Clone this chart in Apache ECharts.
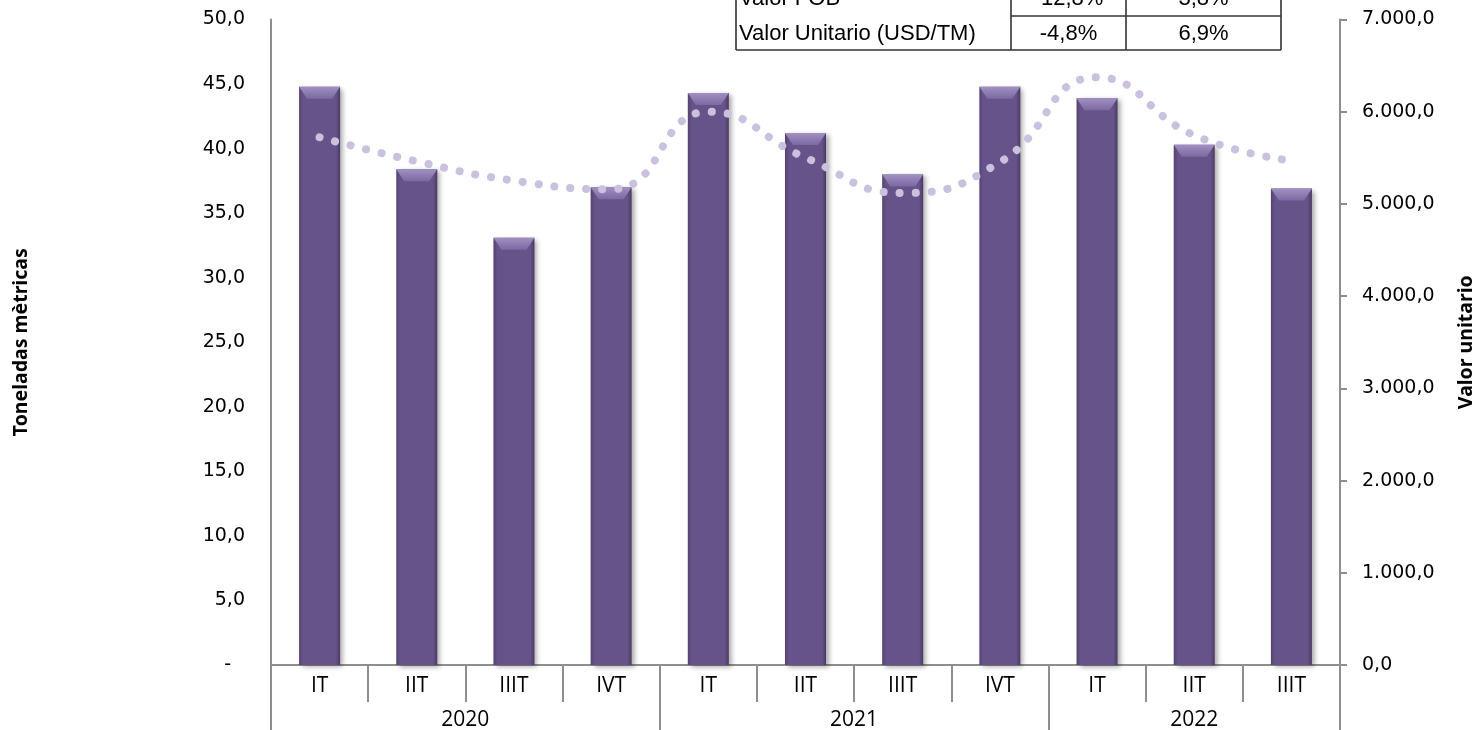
<!DOCTYPE html>
<html>
<head>
<meta charset="utf-8">
<script src="https://cdn.jsdelivr.net/npm/echarts@6/dist/echarts.min.js"></script>
<style>
html,body{margin:0;padding:0;background:#fff;}
#chart{width:1477px;height:730px;}
</style>
</head>
<body>
<div id="chart"></div>
<script>
// ---- data ----
var quarters = ['IT','IIT','IIIT','IVT','IT','IIT','IIIT','IVT','IT','IIT','IIIT'];
var years = ['2020','2021','2022'];
var yearSpans = [4,4,3];
var toneladas = [44.8, 38.4, 33.1, 37.0, 44.3, 41.2, 38.0, 44.8, 43.9, 40.3, 36.9];
var valorUnitario = [5723, 5462, 5252, 5159, 6000, 5502, 5119, 5452, 6373, 5744, 5469];
var tableRows = ['Valor FOB', 'Valor Unitario (USD/TM)'];
var tableCol1 = ['-12,8%', '-4,8%'];
var tableCol2 = ['3,8%', '6,9%'];
var leftTicks = {min:0, max:50, interval:5};
var rightTicks = {min:0, max:7000, interval:1000};

// derived positions for year labels / dividers
var yearBounds = [0], yearCenters = [];
(function(){ var acc=0; for (var i=0;i<yearSpans.length;i++){ yearCenters.push(acc+yearSpans[i]/2); acc+=yearSpans[i]; yearBounds.push(acc);} })();

function fmtLeft(v){ if (v===0) return '{d|-}'; return v.toFixed(1).replace('.',','); }
function fmtRight(v){
  var s = v.toFixed(1).split('.');
  var ip = s[0].replace(/\B(?=(\d{3})+(?!\d))/g,'.');
  return ip + ',' + s[1];
}

var gray = '#8e8e8e';
var chart = echarts.init(document.getElementById('chart'));

// table graphic
var tbl = [];
var colX = [736, 1011, 1126, 1281];
var lineStyle = {stroke:'#333', lineWidth:1.6};
colX.forEach(function(x){ tbl.push({type:'line', shape:{x1:x,y1:-2,x2:x,y2:50}, style:lineStyle}); });
tbl.push({type:'line', shape:{x1:1011,y1:16,x2:1281,y2:16}, style:lineStyle});
tbl.push({type:'line', shape:{x1:736,y1:50,x2:1281,y2:50}, style:lineStyle});
var rowY = [-1, 34];
for (var r=0;r<tableRows.length;r++){
  var ts = {font:'22px "Liberation Sans", Arial, sans-serif', fill:'#000', textVerticalAlign:'middle'};
  tbl.push({type:'text', x:739, y:rowY[r], style:Object.assign({text:tableRows[r], textAlign:'left'}, ts)});
  tbl.push({type:'text', x:(colX[1]+colX[2])/2, y:rowY[r], style:Object.assign({text:tableCol1[r], textAlign:'center'}, ts)});
  tbl.push({type:'text', x:(colX[2]+colX[3])/2, y:rowY[r], style:Object.assign({text:tableCol2[r], textAlign:'center'}, ts)});
}

var catFont = {color:'#000', fontSize:21, fontFamily:'"Open Sans", sans-serif'};
var titleFont = {fontSize:19.5, fontWeight:'bold', color:'#000', fontFamily:'"Noto Sans", sans-serif'};
var tickFont = {color:'#000', fontSize:19, fontFamily:'"DejaVu Sans", sans-serif'};

var option = {
  animation:false,
  backgroundColor:'#fff',
  grid:{left:271, right:137, top:19.5, bottom:65, containLabel:false, outerBoundsMode:'none'},
  graphic: tbl,
  xAxis:[
    {
      type:'category', data:quarters, position:'bottom', boundaryGap:true,
      axisLine:{show:true, lineStyle:{color:gray, width:2}},
      axisTick:{show:true, interval:0, length:37, lineStyle:{color:gray, width:2}},
      axisLabel:Object.assign({interval:0, margin:11}, catFont),
      splitLine:{show:false}
    },
    {
      type:'value', min:0, max:yearBounds[yearBounds.length-1], position:'bottom', offset:37,
      axisLine:{show:true, lineStyle:{color:'rgba(0,0,0,0)', width:0}},
      axisTick:{show:true, customValues:yearBounds, length:28, lineStyle:{color:gray, width:2}},
      axisLabel:Object.assign({customValues:yearCenters, margin:8,
        formatter:function(v){ var i=yearCenters.indexOf(v); return i>=0?years[i]:''; }}, catFont),
      splitLine:{show:false}
    },
    {
      type:'category', data:quarters, position:'bottom', boundaryGap:true, offset:37,
      axisLine:{show:true, lineStyle:{color:'rgba(0,0,0,0)', width:0}},
      axisTick:{show:true, length:28, lineStyle:{color:gray, width:2},
        interval:function(i){ return yearBounds.indexOf(i) >= 0; }},
      axisLabel:{show:false},
      splitLine:{show:false}
    }
  ],
  yAxis:[
    {
      type:'value', min:leftTicks.min, max:leftTicks.max, interval:leftTicks.interval,
      name:'Toneladas mètricas', nameLocation:'middle', nameGap:240, nameRotate:90,
      nameTextStyle:titleFont,
      axisLine:{show:true, lineStyle:{color:gray, width:2}},
      axisTick:{show:false},
      axisLabel:Object.assign({margin:26, formatter:fmtLeft,
        rich:{d:Object.assign({padding:[0,14,0,0]}, tickFont)}}, tickFont),
      splitLine:{show:false}
    },
    {
      type:'value', min:rightTicks.min, max:rightTicks.max, interval:rightTicks.interval, position:'right',
      name:'Valor unitario', nameLocation:'middle', nameGap:116, nameRotate:90,
      nameTextStyle:titleFont,
      axisLine:{show:true, lineStyle:{color:gray, width:2}},
      axisTick:{show:true, length:7, inside:false, lineStyle:{color:gray, width:2}},
      axisLabel:Object.assign({margin:22, formatter:fmtRight}, tickFont),
      splitLine:{show:false}
    }
  ],
  series:[
    {
      type:'bar', data:toneladas, xAxisIndex:0, yAxisIndex:0, barWidth:41, barGap:'-100%',
      itemStyle:{
        color:new echarts.graphic.LinearGradient(0,0,1,0,[
          {offset:0,color:'#55446f'},{offset:0.1,color:'#66538a'},{offset:0.9,color:'#66538a'},{offset:1,color:'#4a3a64'}]),
        shadowBlur:5, shadowOffsetX:3, shadowOffsetY:2, shadowColor:'rgba(0,0,0,0.35)'
      },
      z:2
    },
    {
      type:'pictorialBar', data:toneladas, xAxisIndex:0, yAxisIndex:0, barWidth:41, barGap:'-100%',
      symbol:'path://M0,0 L41,0 L33,10 L8,10 Z', symbolSize:[41,12], symbolPosition:'end', symbolOffset:[0,0],
      itemStyle:{color:new echarts.graphic.LinearGradient(0,0,0,1,[{offset:0,color:'#a190c2'},{offset:1,color:'#7b69a2'}])},
      z:3, silent:true
    },
    {
      type:'line', data:valorUnitario, xAxisIndex:0, yAxisIndex:1, smooth:0.5, symbol:'none',
      lineStyle:{color:'#cbc1de', width:8, type:[0.1,15.9], cap:'round'},
      z:4
    }
  ]
};
chart.setOption(option);
</script>
</body>
</html>
